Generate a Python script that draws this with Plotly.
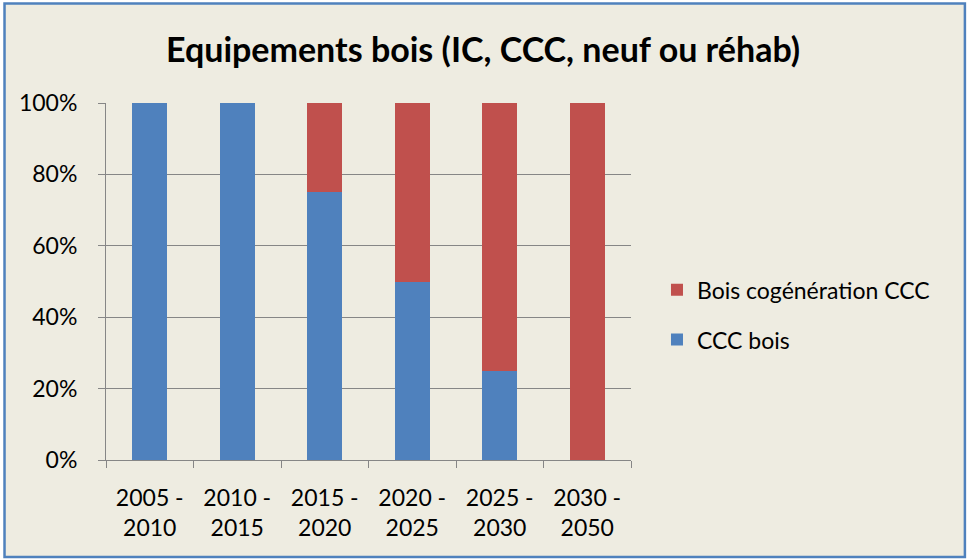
import plotly.graph_objects as go

# Data
periodes = ["2005 -<br>2010", "2010 -<br>2015", "2015 -<br>2020",
            "2020 -<br>2025", "2025 -<br>2030", "2030 -<br>2050"]
ccc_bois = [1.00, 1.00, 0.75, 0.50, 0.25, 0.00]
bois_cogeneration = [0.00, 0.00, 0.25, 0.50, 0.75, 1.00]
y_ticks = [0, 0.2, 0.4, 0.6, 0.8, 1.0]
y_labels = ["0%", "20%", "40%", "60%", "80%", "100%"]

FONT = "Lato, 'Open Sans', sans-serif"
BG = "#EEECE1"
GRID = "#868686"

fig = go.Figure()
fig.add_trace(go.Bar(x=periodes, y=ccc_bois, name="CCC bois",
                     marker=dict(color="#4F81BD", line=dict(width=0)),
                     legendgroup="a", legendrank=2))
fig.add_trace(go.Bar(x=periodes, y=bois_cogeneration, name="Bois cogénération CCC",
                     marker=dict(color="#C0504D", line=dict(width=0)),
                     legendgroup="b", legendrank=1))

# chart frame (paper coords relative to plot area 106..631 x 103..460 px)
fig.add_shape(type="rect", xref="paper", yref="paper",
              x0=-0.1933, x1=1.636, y0=-0.2717, y1=1.2787,
              line=dict(color="#4F81BD", width=2.5), fillcolor=BG, layer="below")

fig.update_layout(
    width=967, height=559,
    margin=dict(l=106, r=336, t=103, b=99),
    paper_bgcolor="white", plot_bgcolor="rgba(0,0,0,0)",
    barmode="stack", bargap=0.6,
    font=dict(family=FONT, size=23, color="black"),
    title=dict(text="<b>Equipements bois (IC, CCC, neuf ou réhab)</b>",
               font=dict(family=FONT, size=34, color="black"),
               x=0.4995, xref="container", xanchor="center",
               y=0.9106, yref="container", yanchor="middle"),
    legend=dict(x=1.0495, y=0.407, xanchor="left", yanchor="middle",
                traceorder="grouped", tracegroupgap=17,
                bgcolor="rgba(0,0,0,0)", font=dict(size=23, family=FONT)),
    showlegend=True,
)
fig.update_xaxes(showline=True, linecolor=GRID, linewidth=1,
                 ticks="outside", tickson="boundaries", ticklen=7,
                 tickcolor=GRID, showgrid=False, ticklabelstandoff=17)
fig.update_yaxes(range=[0, 1], tickvals=y_ticks, ticktext=y_labels,
                 showline=True, linecolor=GRID, linewidth=1,
                 ticks="outside", ticklen=7, tickcolor=GRID,
                 showgrid=True, gridcolor=GRID, gridwidth=1,
                 zeroline=False, ticklabelstandoff=16)

fig.write_html("out.html", config={"displayModeBar": False},
               post_script="document.body.style.margin='0';")
